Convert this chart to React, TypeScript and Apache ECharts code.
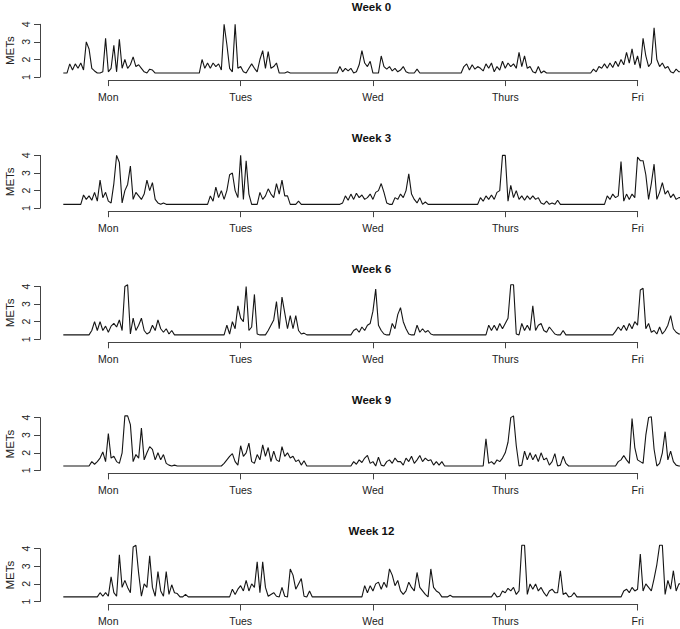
import React, { useEffect, useRef } from "react";
import * as echarts from "echarts";

// ---------- data ----------
const dayLabels = ["Mon", "Tues", "Wed", "Thurs", "Fri"];
const weekTitles = ["Week 0", "Week 3", "Week 6", "Week 9", "Week 12"];
const yTicks = [1, 2, 3, 4];
const HOURS_PER_DAY = 24;
const STEP_HOURS = 0.5; // sampling step of the activity records
const X_MIN = -8.17; // hours relative to Monday tick
const X_MAX = 103.7;
const baselines = [1.23, 1.22, 1.25, 1.25, 1.26];

// start hour (relative to each day tick) of each day's record
const week0Starts = [-7.5, -7.5, -6.5, -8, -8.5];
const week0Mon = [1.23, 1.75, 1.4, 1.75, 1.5, 1.8, 1.4, 3.0, 2.6, 1.5, 1.35, 1.23, 1.23, 1.3, 3.2, 1.3, 1.5, 2.8, 1.3, 3.15, 1.5, 2.0, 1.5, 1.7, 2.15, 1.6, 1.7, 1.5, 1.3, 1.23, 1.45, 1.4, 1.23];
const week0Tue = [1.23, 2.0, 1.5, 1.8, 1.5, 1.8, 1.6, 1.75, 1.4, 4.0, 2.85, 1.5, 1.3, 4.0, 1.5, 1.6, 1.3, 1.23, 1.5, 1.75, 1.5, 1.3, 2.0, 2.5, 1.5, 2.45, 1.5, 1.6, 1.8, 1.23, 1.23, 1.23, 1.3, 1.23];
const week0Wed = [1.23, 1.6, 1.3, 1.5, 1.35, 1.5, 1.23, 1.3, 1.7, 2.5, 1.8, 1.6, 1.9, 1.23, 1.23, 1.23, 2.2, 1.6, 1.45, 1.6, 1.35, 1.5, 1.3, 1.4, 1.6, 1.3, 1.23, 1.23, 1.23, 1.45, 1.23];
const week0Thu = [1.23, 1.6, 1.75, 1.4, 1.7, 1.45, 1.6, 1.5, 1.35, 1.75, 1.5, 1.8, 1.3, 1.6, 1.4, 1.9, 1.5, 1.8, 1.6, 1.75, 1.5, 2.4, 1.6, 2.2, 1.5, 1.6, 1.3, 1.23, 1.6, 1.23, 1.35, 1.23];
const week0Fri = [1.23, 1.45, 1.3, 1.6, 1.5, 1.75, 1.5, 1.8, 1.55, 1.9, 1.6, 2.0, 1.7, 2.4, 1.8, 2.6, 1.7, 2.2, 1.5, 3.2, 2.2, 1.6, 1.8, 3.8, 2.0, 1.6, 1.8, 1.5, 1.6, 1.3, 1.23, 1.45, 1.3];

const week3Starts = [-5, -6, -6, -5.5, -6.5];
const week3Mon = [1.22, 1.75, 1.5, 1.7, 1.45, 1.9, 1.4, 2.6, 1.6, 1.9, 1.4, 1.3, 2.4, 4.0, 3.6, 1.3, 2.0, 2.35, 3.4, 1.5, 1.9, 1.7, 1.5, 1.8, 2.6, 2.0, 2.45, 1.5, 1.3, 1.22, 1.3, 1.22];
const week3Tue = [1.22, 1.7, 1.4, 2.2, 1.6, 2.0, 1.5, 2.0, 2.9, 3.0, 2.0, 1.6, 4.0, 1.5, 3.7, 1.8, 1.22, 1.22, 1.22, 1.9, 1.5, 1.7, 2.1, 1.8, 1.6, 2.4, 1.8, 2.6, 1.7, 1.7, 1.22, 1.22, 1.22, 1.4, 1.22];
const week3Wed = [1.22, 1.3, 1.7, 1.45, 1.8, 1.5, 1.85, 1.6, 1.75, 1.5, 1.6, 1.8, 1.5, 1.9, 2.0, 2.4, 1.9, 1.3, 1.22, 1.22, 1.6, 1.5, 1.8, 1.6, 2.0, 2.95, 1.8, 1.5, 1.3, 1.6, 1.22, 1.35, 1.22];
const week3Thu = [1.22, 1.22, 1.6, 1.4, 1.7, 1.5, 1.75, 1.5, 1.9, 2.0, 4.0, 4.0, 1.4, 2.3, 1.6, 2.0, 1.5, 1.7, 1.45, 1.7, 1.5, 1.7, 1.5, 1.6, 1.3, 1.22, 1.4, 1.22, 1.3, 1.22, 1.45, 1.22];
const week3Fri = [1.22, 1.22, 1.7, 1.5, 1.8, 1.6, 1.7, 3.65, 1.4, 1.8, 1.5, 1.8, 1.6, 3.9, 3.7, 3.7, 2.9, 1.5, 2.4, 3.5, 1.5, 1.9, 2.45, 1.8, 2.0, 1.6, 1.8, 1.5, 1.6];

const week6Starts = [-3.5, -3, -4, -3.5, -4.5];
const week6Mon = [1.25, 1.5, 2.0, 1.5, 2.0, 1.5, 1.75, 1.4, 1.75, 1.9, 1.7, 2.1, 1.5, 4.0, 4.1, 1.3, 2.2, 1.5, 1.8, 2.2, 1.5, 1.3, 1.4, 1.8, 1.5, 2.1, 1.6, 1.4, 1.6, 1.3, 1.5, 1.25];
const week6Tue = [1.25, 1.8, 1.3, 2.0, 1.6, 2.9, 2.2, 2.0, 4.0, 1.5, 1.7, 3.55, 1.3, 1.25, 1.25, 1.25, 1.5, 1.8, 2.1, 3.15, 1.6, 3.4, 2.5, 1.6, 2.35, 1.6, 2.35, 1.5, 1.3, 1.35, 1.25];
const week6Wed = [1.25, 1.5, 1.6, 1.4, 1.7, 1.5, 1.8, 1.9, 2.6, 3.85, 1.8, 1.5, 1.3, 1.25, 1.25, 1.9, 1.6, 2.4, 2.8, 2.0, 1.6, 1.3, 1.25, 1.25, 1.8, 1.4, 1.6, 1.4, 1.5, 1.3, 1.25];
const week6Thu = [1.25, 1.8, 1.5, 1.8, 1.5, 1.9, 1.6, 1.9, 2.2, 4.1, 4.1, 1.3, 1.25, 1.9, 1.5, 1.8, 1.5, 2.9, 1.5, 1.8, 1.9, 1.5, 1.4, 1.7, 1.5, 1.3, 1.25, 1.25, 1.5, 1.25];
const week6Fri = [1.25, 1.45, 1.7, 1.5, 1.8, 1.5, 1.9, 1.6, 2.0, 1.8, 3.8, 3.9, 1.6, 1.9, 1.4, 1.5, 1.3, 1.7, 1.3, 1.5, 1.8, 2.35, 1.6, 1.4, 1.3];

const week9Starts = [-3.5, -3.5, -4, -4, -4];
const week9Mon = [1.25, 1.5, 1.35, 1.5, 1.7, 2.05, 1.5, 3.1, 1.7, 1.8, 1.5, 1.4, 2.0, 4.1, 4.1, 3.6, 1.5, 1.9, 1.7, 3.4, 1.6, 2.0, 2.35, 2.2, 1.6, 2.0, 1.6, 1.9, 1.4, 1.3, 1.25, 1.3, 1.25];
const week9Tue = [1.25, 1.4, 1.6, 1.8, 1.95, 1.5, 1.3, 2.4, 1.8, 2.0, 2.55, 1.5, 1.4, 1.9, 1.6, 2.45, 1.8, 2.3, 1.5, 2.1, 1.6, 1.5, 2.35, 1.8, 2.0, 1.7, 1.8, 1.5, 1.6, 1.3, 1.55, 1.25];
const week9Wed = [1.25, 1.5, 1.35, 1.6, 1.45, 1.7, 1.85, 1.4, 1.5, 1.25, 1.75, 1.3, 1.25, 1.5, 1.6, 1.4, 1.7, 1.5, 1.5, 1.3, 1.7, 1.5, 1.8, 1.4, 1.6, 1.85, 1.5, 1.7, 1.55, 1.6, 1.3, 1.5, 1.3, 1.5, 1.25];
const week9Thu = [1.25, 2.8, 1.4, 1.5, 1.35, 1.6, 1.5, 1.7, 2.0, 2.6, 4.0, 4.1, 2.4, 1.25, 1.3, 2.1, 1.6, 2.0, 1.6, 1.9, 1.5, 2.0, 1.6, 1.7, 1.3, 1.5, 1.95, 1.25, 1.3, 1.8, 1.4, 1.25];
const week9Fri = [1.25, 1.5, 1.6, 1.85, 1.6, 1.4, 3.95, 2.3, 1.6, 1.5, 1.4, 3.0, 4.0, 4.05, 2.2, 1.25, 1.4, 2.0, 3.2, 1.6, 2.1, 1.5, 1.3, 1.25];

const week12Starts = [-2, -2, -2, -2.5, -3];
const week12Mon = [1.26, 1.5, 1.3, 1.5, 1.3, 2.4, 1.5, 1.3, 3.65, 1.8, 2.2, 1.8, 1.5, 4.1, 4.2, 2.6, 1.3, 2.0, 1.8, 3.6, 1.8, 1.3, 2.7, 1.6, 1.3, 2.7, 1.4, 1.95, 1.5, 1.45, 1.26, 1.26, 1.4, 1.26];
const week12Tue = [1.26, 1.7, 1.4, 1.7, 1.9, 1.6, 2.2, 1.6, 2.0, 1.8, 3.25, 1.5, 3.25, 1.8, 1.3, 1.4, 1.5, 1.3, 1.26, 1.8, 1.3, 1.26, 2.85, 2.5, 1.7, 2.0, 2.3, 1.3, 1.26, 1.6, 1.26];
const week12Wed = [1.26, 1.9, 1.5, 1.9, 1.6, 2.0, 2.1, 1.7, 2.1, 1.8, 2.85, 2.5, 1.9, 2.2, 1.6, 1.4, 1.6, 2.1, 1.8, 1.6, 2.65, 1.8, 1.6, 1.4, 1.26, 2.85, 1.8, 1.6, 1.5, 1.26, 1.26, 1.26, 1.35, 1.26];
const week12Thu = [1.26, 1.5, 1.26, 1.3, 1.6, 1.5, 1.75, 1.6, 1.8, 1.4, 1.6, 4.2, 4.2, 1.4, 2.0, 1.7, 2.0, 1.6, 1.8, 1.5, 1.3, 1.6, 1.7, 1.5, 1.5, 2.75, 1.4, 1.5, 1.26, 1.3, 1.5, 1.26];
const week12Fri = [1.26, 1.6, 1.7, 1.5, 1.8, 1.6, 1.7, 3.7, 1.6, 2.0, 1.8, 1.6, 2.3, 3.1, 4.2, 4.2, 1.4, 2.2, 1.7, 2.75, 1.6, 2.0];

const weekStarts = [week0Starts, week3Starts, week6Starts, week9Starts, week12Starts];
const weekDays = [
  [week0Mon, week0Tue, week0Wed, week0Thu, week0Fri],
  [week3Mon, week3Tue, week3Wed, week3Thu, week3Fri],
  [week6Mon, week6Tue, week6Wed, week6Thu, week6Fri],
  [week9Mon, week9Tue, week9Wed, week9Thu, week9Fri],
  [week12Mon, week12Tue, week12Wed, week12Thu, week12Fri],
];

// ---------- layout ----------
const FONT = "'Liberation Sans', Arial, Helvetica, sans-serif";
const PANEL_TOP0 = 24.3;
const PANEL_GAP = 131.1;
const PANEL_H = 52.8;
const DATA_LEFT = 63.3;
const Y_AXIS_X = 40;
const TICK_LEFT = 108.3;
const TICK_RIGHT = 42.3;
const AXIS_COLOR = "#444";
const TEXT_COLOR = "#222";

function buildPoints(w: number): number[][] {
  const pts: number[][] = [[X_MIN, baselines[w]]];
  weekDays[w].forEach((vals, d) => {
    vals.forEach((v, i) => {
      pts.push([d * HOURS_PER_DAY + weekStarts[w][d] + i * STEP_HOURS, v]);
    });
  });
  const last = pts[pts.length - 1];
  if (last[0] < X_MAX) pts.push([X_MAX, last[1]]);
  return pts;
}

export default function App() {
  const ref = useRef<HTMLDivElement>(null);
  useEffect(() => {
    if (!ref.current) return;
    const chart = echarts.init(ref.current, undefined, { renderer: "svg" });
    const grid: any[] = [];
    const xAxis: any[] = [];
    const yAxis: any[] = [];
    const series: any[] = [];
    const graphic: any[] = [];
    weekTitles.forEach((title, w) => {
      const top = PANEL_TOP0 + w * PANEL_GAP;
      grid.push({ left: DATA_LEFT, right: 0, top, height: PANEL_H });
      grid.push({ left: TICK_LEFT, right: TICK_RIGHT, top: top + PANEL_H + 3 - 10, height: 10 });
      xAxis.push({ gridIndex: 2 * w, type: "value", min: X_MIN, max: X_MAX, show: false });
      xAxis.push({
        gridIndex: 2 * w + 1,
        type: "value",
        min: 0,
        max: 4,
        interval: 1,
        position: "bottom",
        axisLine: { show: true, onZero: false, lineStyle: { color: AXIS_COLOR, width: 1 } },
        axisTick: { show: true, length: 6, lineStyle: { color: AXIS_COLOR, width: 1 } },
        axisLabel: {
          show: true,
          margin: 11,
          fontSize: 10.5,
          fontFamily: FONT,
          color: TEXT_COLOR,
          formatter: (v: number) => dayLabels[Math.round(v)] ?? "",
        },
        splitLine: { show: false },
      });
      yAxis.push({
        gridIndex: 2 * w,
        type: "value",
        min: yTicks[0],
        max: yTicks[yTicks.length - 1],
        interval: 1,
        position: "left",
        offset: DATA_LEFT - Y_AXIS_X,
        axisLine: { show: true, onZero: false, lineStyle: { color: AXIS_COLOR, width: 1 } },
        axisTick: { show: true, length: 6, lineStyle: { color: AXIS_COLOR, width: 1 } },
        axisLabel: { show: true, rotate: 90, margin: 9, fontSize: 10.5, fontFamily: FONT, color: TEXT_COLOR },
        splitLine: { show: false },
      });
      yAxis.push({ gridIndex: 2 * w + 1, type: "value", show: false, min: 0, max: 1 });
      series.push({
        type: "line",
        xAxisIndex: 2 * w,
        yAxisIndex: 2 * w,
        data: buildPoints(w),
        showSymbol: false,
        symbol: "none",
        clip: false,
        lineStyle: { color: "#151515", width: 1.1 },
      });
      graphic.push({
        type: "text",
        x: 371.5,
        y: top - 17.6,
        style: {
          text: title,
          fontSize: 11.5,
          fontWeight: "bold",
          fontFamily: FONT,
          fill: "#111",
          align: "center",
          verticalAlign: "middle",
          textAlign: "center",
          textVerticalAlign: "middle",
        },
      });
      graphic.push({
        type: "text",
        x: 9.5,
        y: top + PANEL_H / 2,
        rotation: Math.PI / 2,
        style: {
          text: "METs",
          fontSize: 11.5,
          fontFamily: FONT,
          fill: TEXT_COLOR,
          align: "center",
          verticalAlign: "middle",
          textAlign: "center",
          textVerticalAlign: "middle",
        },
      });
    });
    chart.setOption({
      animation: false,
      backgroundColor: "#ffffff",
      grid,
      xAxis,
      yAxis,
      series,
      graphic,
    });
    return () => chart.dispose();
  }, []);
  return (
    <div
      ref={ref}
      style={{ position: "fixed", left: 0, top: 0, width: 680, height: 629 }}
    />
  );
}
